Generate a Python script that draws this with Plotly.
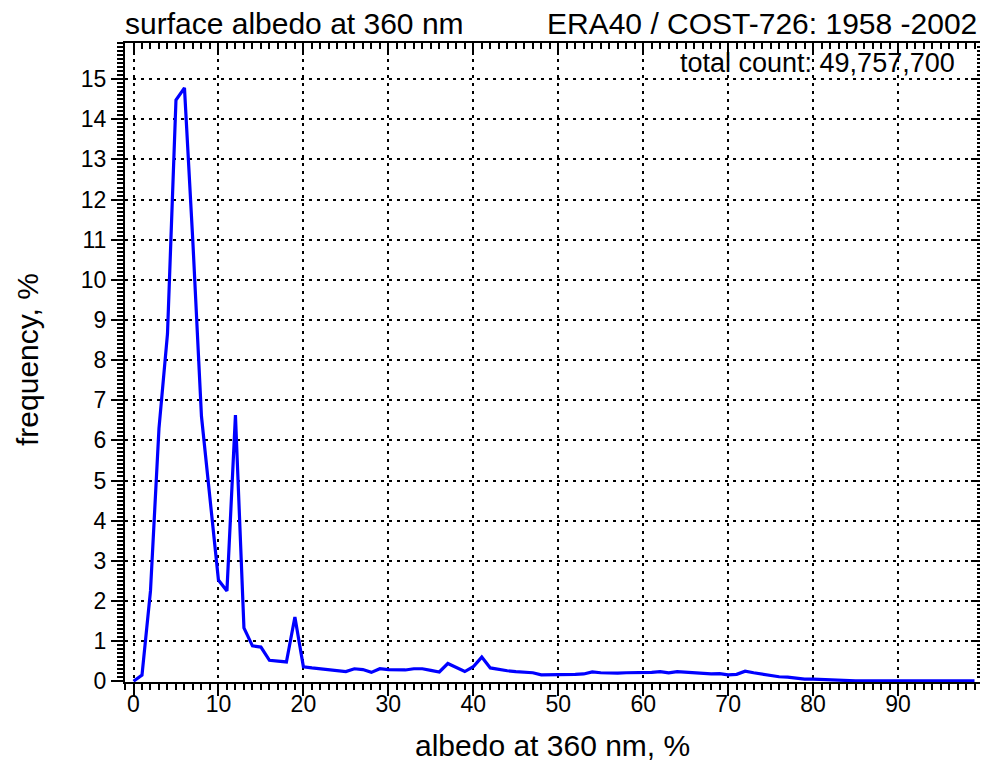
import plotly.graph_objects as go

albedo = list(range(0, 100))
frequency = [
    0.0, 0.15, 2.25, 6.3, 8.65, 14.48, 14.78, 10.9, 6.6, 4.5,
    2.52, 2.25, 6.63, 1.33, 0.88, 0.85, 0.52, 0.50, 0.48, 1.6,
    0.36, 0.33, 0.31, 0.29, 0.27, 0.24, 0.31, 0.29, 0.22, 0.31,
    0.29, 0.28, 0.28, 0.31, 0.31, 0.27, 0.23, 0.44, 0.33, 0.24,
    0.36, 0.6, 0.33, 0.29, 0.26, 0.24, 0.22, 0.21, 0.16, 0.16,
    0.16, 0.16, 0.17, 0.18, 0.23, 0.21, 0.2, 0.2, 0.21, 0.21,
    0.23, 0.22, 0.24, 0.21, 0.24, 0.23, 0.21, 0.2, 0.18, 0.19,
    0.16, 0.17, 0.25, 0.21, 0.17, 0.13, 0.11, 0.1, 0.07, 0.05,
    0.05, 0.04, 0.02, 0.02, 0.01, 0.01, 0.01, 0.01, 0.01, 0.01,
    0.01, 0.01, 0.01, 0.01, 0.01, 0.01, 0.01, 0.01, 0.01, 0.01,
]
x_ticks = list(range(0, 100, 10))
y_ticks = list(range(0, 16))

FONT = "Liberation Sans, Arial, sans-serif"
x_range = [-1, 100]
y_range = [-0.02, 15.9]

fig = go.Figure()
fig.add_trace(go.Scatter(
    x=albedo, y=frequency, mode="lines",
    line=dict(color="#0000ff", width=3.2), showlegend=False,
))
# copy on the mirrored axes so the inner ticks on top/right get drawn
fig.add_trace(go.Scatter(
    x=albedo, y=frequency, mode="lines", xaxis="x2", yaxis="y2",
    line=dict(color="rgba(0,0,0,0)", width=0), showlegend=False,
    hoverinfo="skip",
))

grid = dict(showgrid=True, gridcolor="black", gridwidth=2, griddash="3px,5px")
fig.update_layout(
    width=988, height=778,
    margin=dict(l=117, r=13, t=35, b=104),
    paper_bgcolor="white", plot_bgcolor="white",
    font=dict(family=FONT, size=23, color="black"),
    xaxis=dict(
        range=x_range, tickvals=x_ticks, ticks="outside", ticklen=12,
        tickwidth=2, tickcolor="black", showline=True, linecolor="black",
        linewidth=2, zeroline=False, ticklabelstandoff=-12,
        minor=dict(dtick=1, ticks="outside", ticklen=6, tickwidth=2,
                   tickcolor="black", showgrid=False),
        **grid,
    ),
    yaxis=dict(
        range=y_range, tickvals=y_ticks, ticks="outside", ticklen=12,
        tickwidth=2, tickcolor="black", showline=True, linecolor="black",
        linewidth=2, zeroline=False,
        minor=dict(dtick=0.1, ticks="outside", ticklen=6, tickwidth=2,
                   tickcolor="black", showgrid=False),
        **grid,
    ),
    xaxis2=dict(
        range=x_range, overlaying="x", side="top", tickvals=x_ticks,
        ticks="inside", ticklen=12, tickwidth=2, tickcolor="black",
        showticklabels=False, showgrid=False, zeroline=False,
        showline=True, linecolor="black", linewidth=2,
        minor=dict(dtick=1, ticks="inside", ticklen=6, tickwidth=2,
                   tickcolor="black", showgrid=False),
    ),
    yaxis2=dict(
        range=y_range, overlaying="y", side="right", tickvals=y_ticks,
        ticks="inside", ticklen=12, tickwidth=2, tickcolor="black",
        showticklabels=False, showgrid=False, zeroline=False,
        showline=True, linecolor="black", linewidth=2,
        minor=dict(dtick=0.1, ticks="inside", ticklen=6, tickwidth=2,
                   tickcolor="black", showgrid=False),
    ),
)

fig.add_annotation(text="surface albedo at 360 nm", xref="paper", yref="paper",
                   x=-0.002, y=1, xanchor="left", yanchor="bottom", yshift=1,
                   showarrow=False, font=dict(size=30))
fig.add_annotation(text="ERA40 / COST-726: 1958 -2002", xref="paper", yref="paper",
                   x=0.9953, y=1, xanchor="right", yanchor="bottom", yshift=1,
                   showarrow=False, font=dict(size=30))
fig.add_annotation(text="total count: 49,757,700", xref="paper", yref="paper",
                   x=0.9697, y=0.9687, xanchor="right", yanchor="middle",
                   showarrow=False, font=dict(size=27))
fig.add_annotation(text="albedo at 360 nm, %", xref="paper", yref="paper",
                   x=0.4988, y=-0.1, xanchor="center", yanchor="middle",
                   showarrow=False, font=dict(size=30))
fig.add_annotation(text="frequency, %", xref="paper", yref="paper",
                   x=-0.113, y=0.504, xanchor="center", yanchor="middle",
                   textangle=-90, showarrow=False, font=dict(size=30))

fig.write_html("out.html")
